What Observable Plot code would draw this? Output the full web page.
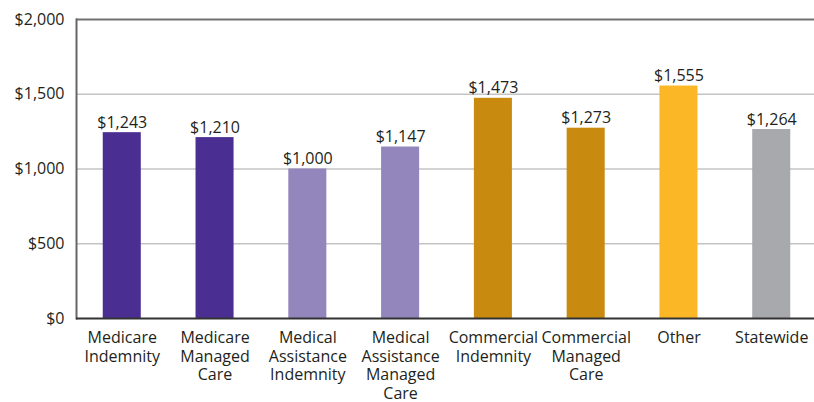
<!DOCTYPE html>
<html>
<head>
<meta charset="utf-8">
<script src="https://cdn.jsdelivr.net/npm/d3@7"></script>
<script src="https://cdn.jsdelivr.net/npm/@observablehq/plot@0.6"></script>
<style>
  html, body { margin: 0; padding: 0; background: #fff; }
</style>
</head>
<body>
<div id="chart"></div>
<script>
const categories = [
  "Medicare\nIndemnity",
  "Medicare\nManaged\nCare",
  "Medical\nAssistance\nIndemnity",
  "Medical\nAssistance\nManaged\nCare",
  "Commercial\nIndemnity",
  "Commercial\nManaged\nCare",
  "Other",
  "Statewide"
];
const values = [1243, 1210, 1000, 1147, 1473, 1273, 1555, 1264];
const colors = ["#4b2e91", "#4b2e91", "#9386bd", "#9386bd", "#c98a10", "#c98a10", "#fbb726", "#a8a9ad"];
const yTicks = [0, 500, 1000, 1500, 2000];

const data = categories.map((c, i) => ({category: c, value: values[i], color: colors[i]}));
const fmt = d => "$" + d3.format(",")(d);

const chart = Plot.plot({
  width: 814,
  height: 402,
  marginLeft: 76,
  marginRight: 0,
  marginTop: 19,
  marginBottom: 84,
  style: {fontFamily: "'Open Sans', sans-serif", fontSize: "16px", color: "#231f20", background: "#fff"},
  x: {domain: categories, range: [48, 845], padding: 0.59, round: false, label: null},
  y: {domain: [0, 2000], label: null},
  marks: [
    Plot.ruleY([500, 1000, 1500], {stroke: "#c4c4c4", strokeWidth: 1.5}),
    Plot.ruleY([2000], {stroke: "#707070", strokeWidth: 2}),
    Plot.barY(data, {x: "category", y: "value", fill: "color"}),
    Plot.text(data, {x: "category", y: "value", text: d => fmt(d.value), lineAnchor: "bottom", dy: -5, fill: "#231f20", fontSize: 16}),
    Plot.axisY({ticks: yTicks, tickFormat: fmt, tickSize: 0, tickPadding: 12, fontSize: 16, fill: "#231f20"}),
    Plot.axisX({tickSize: 0, tickPadding: 11, fontSize: 16, fill: "#231f20", lineHeight: 1.17}),
    Plot.frame({anchor: "left", stroke: "#666", strokeWidth: 2}),
    Plot.ruleY([0], {stroke: "#333", strokeWidth: 2})
  ]
});
document.getElementById("chart").appendChild(chart);
</script>
</body>
</html>
